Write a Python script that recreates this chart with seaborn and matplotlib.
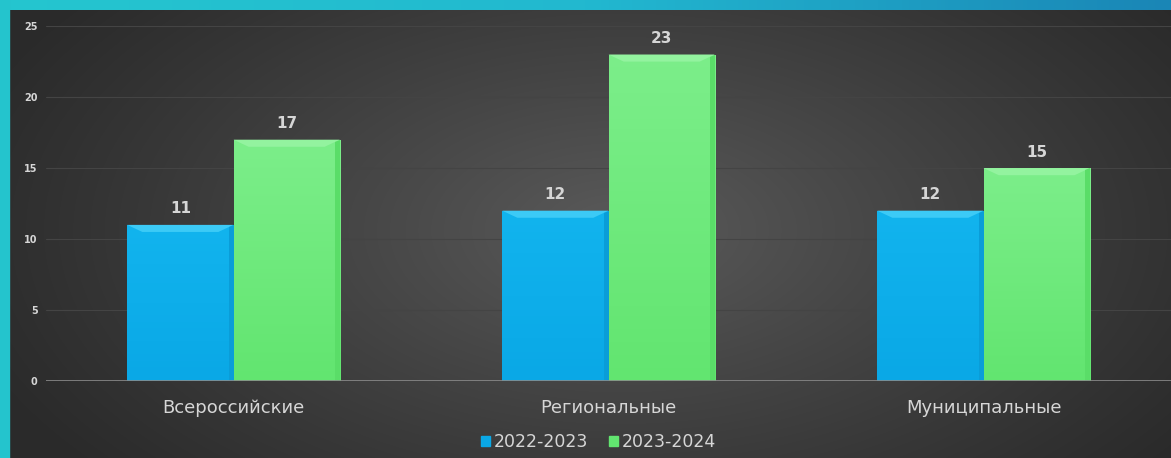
import numpy as np
import pandas as pd
import seaborn as sns
import matplotlib.pyplot as plt
from matplotlib.patches import Polygon, Rectangle
from matplotlib.colors import LinearSegmentedColormap

# data
categories = ['Всероссийские', 'Региональные', 'Муниципальные']
years = ['2022-2023', '2023-2024']
vals_2022 = [11, 12, 12]
vals_2023 = [17, 23, 15]
yticks = [0, 5, 10, 15, 20, 25]

colors = {'2022-2023': '#0aa8e6', '2023-2024': '#62e570'}
top_c = {'2022-2023': '#12b4ee', '2023-2024': '#7cee8a'}
light = {'2022-2023': '#3ccaf6', '2023-2024': '#93f39f'}
dark = {'2022-2023': '#0a9dd8', '2023-2024': '#5add68'}
txt = '#d6d6d6'

df = pd.DataFrame({
    'cat': categories * 2,
    'year': [years[0]] * 3 + [years[1]] * 3,
    'val': vals_2022 + vals_2023,
})

sns.set_style('white')
plt.rcParams['font.family'] = ['DejaVu Sans']

fig = plt.figure(figsize=(11.71, 4.58), dpi=100)

# background: radial gray gradient + teal frame
bg = fig.add_axes([0, 0, 1, 1], zorder=-10)
yy, xx = np.mgrid[0:458, 0:1171]
r = np.sqrt(((xx - 620) / 700.0) ** 2 + ((yy - 230) / 380.0) ** 2)
shade = np.clip(1 - r, 0, 1) ** 1.1
cmap = LinearSegmentedColormap.from_list('bg', ['#2a2a2a', '#5a5a5a'])
bg.imshow(shade, cmap=cmap, aspect='auto', extent=[0, 1171, 458, 0], vmin=0, vmax=1)
topcol = LinearSegmentedColormap.from_list('top', ['#25c6cf', '#22b8d0', '#1a86b6'])
bg.imshow(np.linspace(0, 1, 300)[None, :], cmap=topcol, aspect='auto',
          extent=[0, 1171, 10, 0])
bg.add_patch(Rectangle((0, 0), 9, 458, color='#24c4cd'))
bg.set_xlim(0, 1171)
bg.set_ylim(458, 0)
bg.axis('off')

ax = fig.add_axes([0.0393, 0.168, 0.9607, 0.775])
ax.patch.set_alpha(0)
sns.barplot(data=df, x='cat', y='val', hue='year', hue_order=years,
            palette=colors, width=0.567, saturation=1, ax=ax, legend=False,
            linewidth=0)

# vertical shading + soft bevel, computed from the bar geometry
for i, cont in enumerate(ax.containers):
    key = years[i]
    grad = LinearSegmentedColormap.from_list('g', [colors[key], top_c[key]])
    for p in cont.patches:
        x0, w, h = p.get_x(), p.get_width(), p.get_height()
        im = ax.imshow(np.linspace(0, 1, 100)[:, None], cmap=grad, origin='lower',
                       aspect='auto', extent=[x0, x0 + w, 0, h], zorder=2)
        im.set_clip_path(p)
        b = 0.04 * w / 0.28
        bh = 0.5
        ax.add_patch(Polygon([(x0, h), (x0 + w, h), (x0 + w - b, h - bh), (x0 + b, h - bh)],
                             closed=True, color=light[key], lw=0, zorder=3))
        ax.add_patch(Polygon([(x0 + w, h), (x0 + w, 0), (x0 + w - b * 0.3, 0),
                              (x0 + w - b * 0.3, h - bh * 0.3)],
                             closed=True, color=dark[key], lw=0, zorder=3))
        ax.text(x0 + w / 2, h + 0.6, f'{int(h)}', ha='center', va='bottom',
                color=txt, fontsize=11, fontweight='bold')

ax.set_ylim(0, 25)
ax.set_xlim(-0.5, 2.5)
ax.set_yticks(yticks)
ax.set_yticklabels([str(t) for t in yticks], color=txt, fontsize=7, fontweight='bold')
ax.set_xlabel('')
ax.set_ylabel('')
ax.tick_params(axis='x', colors=txt, labelsize=13, length=0, pad=13)
ax.tick_params(axis='y', length=0, pad=6)
for lab in ax.get_xticklabels():
    lab.set_color(txt)
for s in ax.spines.values():
    s.set_visible(False)
for t in yticks[1:]:
    ax.axhline(t, color='#444444', lw=0.8, zorder=0)
ax.axhline(0, color='#8a8a8a', lw=1.2, zorder=4)

handles = [Rectangle((0, 0), 1, 1, color=colors[y]) for y in years]
fig.legend(handles, years, loc='center', bbox_to_anchor=(0.511, 0.035), ncol=2,
           frameon=False, labelcolor=txt, fontsize=12.5, handlelength=0.55,
           handleheight=0.55, handletextpad=0.2, columnspacing=1.2)

fig.savefig('out.png', dpi=100)
